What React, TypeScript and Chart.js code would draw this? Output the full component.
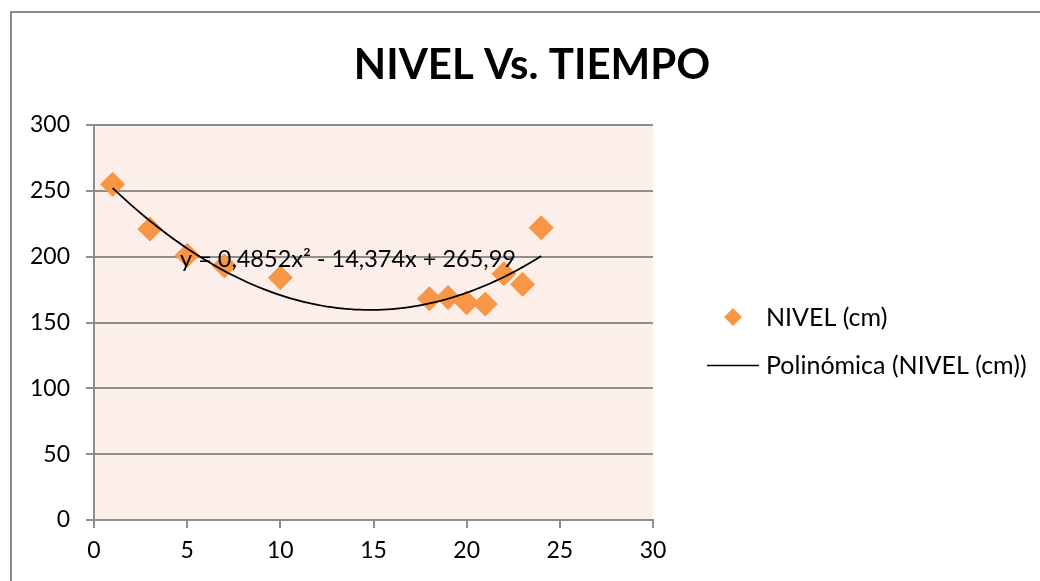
import React, { useEffect, useRef } from "react";
import { Chart, registerables } from "chart.js";

Chart.register(...registerables);

const chartTitle = "NIVEL Vs. TIEMPO";
const seriesName = "NIVEL (cm)";
const trendName = "Polinómica (NIVEL (cm))";
const trendLabel = "y = 0,4852x² - 14,374x + 265,99";

const tiempo = [1, 3, 5, 7, 10, 18, 19, 20, 21, 22, 23, 24];
const nivel = [255, 221, 201, 193, 184, 168, 169, 165, 164, 187, 179, 222];

// Coefficients of the polynomial trendline printed on the chart: a·x² + b·x + c
const trendCoefficients = [0.4852, -14.374, 265.99];
const trendRange = [1, 24];

const xTicks = [0, 5, 10, 15, 20, 25, 30];
const yTicks = [0, 50, 100, 150, 200, 250, 300];

const ORANGE = "#F79646";
const GRID = "#8e8e8e";
const FONT = "Lato, 'Open Sans', sans-serif";

function buildTrend() {
  const [a, b, c] = trendCoefficients;
  const pts: { x: number; y: number }[] = [];
  const steps = 92;
  for (let i = 0; i <= steps; i++) {
    const x = trendRange[0] + ((trendRange[1] - trendRange[0]) * i) / steps;
    pts.push({ x, y: a * x * x + b * x + c });
  }
  return pts;
}

const decorPlugin = {
  id: "decor",
  beforeDraw(chart: any) {
    const { ctx, chartArea: a } = chart;
    ctx.save();
    ctx.fillStyle = "#FCEEE9";
    ctx.fillRect(a.left, a.top, a.right - a.left, a.bottom - a.top);
    ctx.restore();
  },
  afterDraw(chart: any) {
    const ctx = chart.ctx as CanvasRenderingContext2D;
    ctx.save();
    // outer chart border (clipped by the image edges)
    ctx.strokeStyle = "#8a8a8a";
    ctx.lineWidth = 2;
    ctx.beginPath();
    ctx.moveTo(11, 640);
    ctx.lineTo(11, 12);
    ctx.lineTo(1100, 12);
    ctx.stroke();

    // title
    ctx.fillStyle = "#000";
    ctx.font = `bold 42px ${FONT}`;
    ctx.textAlign = "center";
    ctx.textBaseline = "alphabetic";
    ctx.fillText(chartTitle, 532, 79);

    // trendline equation
    ctx.font = `23.5px ${FONT}`;
    ctx.textAlign = "left";
    ctx.fillText(trendLabel, 180, 267);

    // legend
    const mx = 733, my = 317, r = 9;
    ctx.fillStyle = ORANGE;
    ctx.beginPath();
    ctx.moveTo(mx, my - r);
    ctx.lineTo(mx + r, my);
    ctx.lineTo(mx, my + r);
    ctx.lineTo(mx - r, my);
    ctx.closePath();
    ctx.fill();

    ctx.strokeStyle = "#000";
    ctx.lineWidth = 1.5;
    ctx.beginPath();
    ctx.moveTo(707, 365.5);
    ctx.lineTo(759, 365.5);
    ctx.stroke();

    ctx.fillStyle = "#000";
    ctx.font = `25px ${FONT}`;
    ctx.textBaseline = "middle";
    ctx.fillText(seriesName, 766, 318);
    ctx.fillText(trendName, 766, 366);
    ctx.restore();
  },
};

export default function App() {
  const ref = useRef<HTMLCanvasElement | null>(null);

  useEffect(() => {
    if (!ref.current) return;
    const chart = new Chart(ref.current, {
      type: "scatter",
      data: {
        datasets: [
          {
            type: "line",
            label: trendName,
            data: buildTrend(),
            borderColor: "#000",
            borderWidth: 1.75,
            pointRadius: 0,
            fill: false,
            tension: 0,
            order: 0,
          } as any,
          {
            label: seriesName,
            data: tiempo.map((x, i) => ({ x, y: nivel[i] })),
            pointStyle: "rectRot",
            pointRadius: 12,
            pointHoverRadius: 12,
            backgroundColor: ORANGE,
            borderColor: ORANGE,
            borderWidth: 1,
            order: 1,
          },
        ],
      },
      options: {
        responsive: false,
        animation: false,
        layout: { padding: { left: 0, right: 387, top: 125, bottom: 0 } },
        plugins: {
          legend: { display: false },
          title: { display: false },
          tooltip: { enabled: false },
        },
        scales: {
          x: {
            type: "linear",
            min: xTicks[0],
            max: xTicks[xTicks.length - 1],
            afterBuildTicks: (s: any) => {
              s.ticks = xTicks.map((v) => ({ value: v }));
            },
            afterFit: (s: any) => {
              s.height = 61;
            },
            ticks: {
              color: "#000",
              font: { family: FONT, size: 23 },
              padding: 9,
            },
            grid: {
              drawOnChartArea: false,
              drawTicks: true,
              tickLength: 8,
              color: GRID,
              lineWidth: 2,
            },
            border: { display: true, color: GRID, width: 2 },
          },
          y: {
            type: "linear",
            min: yTicks[0],
            max: yTicks[yTicks.length - 1],
            afterBuildTicks: (s: any) => {
              s.ticks = yTicks.map((v) => ({ value: v }));
            },
            afterFit: (s: any) => {
              s.width = 94;
            },
            ticks: {
              color: "#000",
              font: { family: FONT, size: 23 },
              padding: 16,
            },
            grid: {
              drawOnChartArea: true,
              drawTicks: true,
              tickLength: 8,
              color: GRID,
              lineWidth: 2,
            },
            border: { display: true, color: GRID, width: 2 },
          },
        },
      },
      plugins: [decorPlugin],
    } as any);
    return () => chart.destroy();
  }, []);

  return (
    <div style={{ position: "fixed", left: 0, top: 0, width: 1040, height: 581, background: "#fff", overflow: "hidden" }}>
      <canvas ref={ref} width={1040} height={581} style={{ display: "block" }} />
    </div>
  );
}
